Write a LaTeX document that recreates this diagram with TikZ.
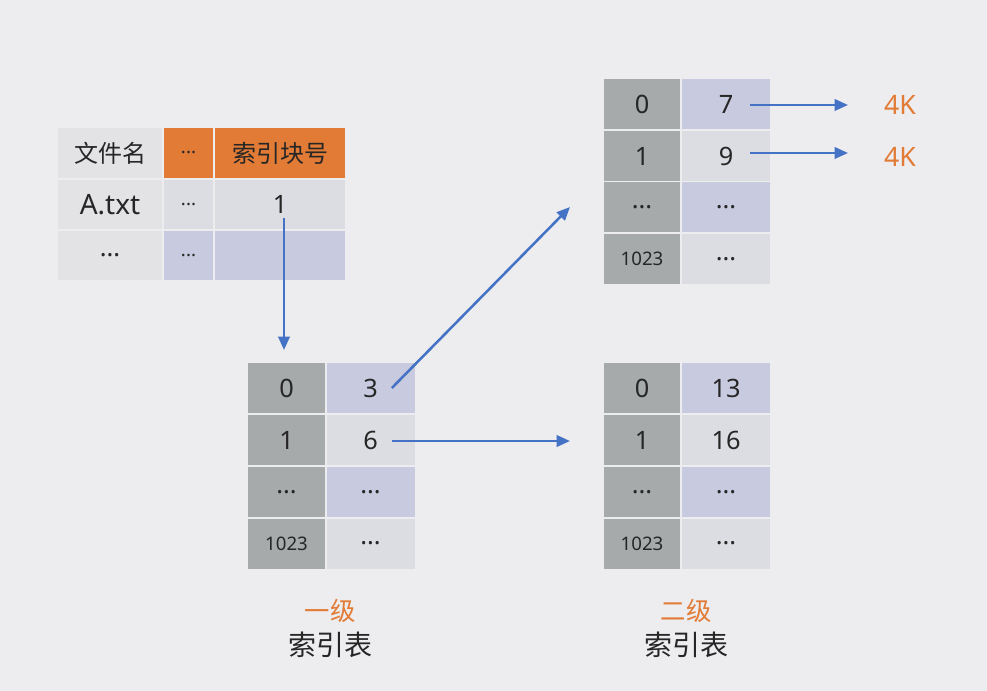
\documentclass[tikz,border=0pt]{standalone}
\usepackage{fontspec}
\setmainfont{Noto Sans}
\newfontfamily\cjk{Noto Sans CJK SC}
\usetikzlibrary{arrows.meta}

\definecolor{bgc}{HTML}{EDECEF}
\definecolor{keyc}{HTML}{A6AAAB}
\definecolor{lavc}{HTML}{C8CAE0}
\definecolor{litc}{HTML}{DCDDE3}
\definecolor{namec}{HTML}{E3E3E6}
\definecolor{orgc}{HTML}{E17B35}
\definecolor{arrc}{HTML}{4472C4}

\tikzset{
  cell/.style={rectangle, inner sep=0pt, text=black!85, font=\fontsize{19}{19}\selectfont},
  keycell/.style={cell, fill=keyc, minimum width=57.5pt, minimum height=37.5pt},
  valcell/.style={cell, minimum width=66pt, minimum height=37.5pt},
  arr/.style={draw=arrc, line width=1.9pt, -{Triangle[length=10pt,width=8.5pt]}},
  small/.style={font=\fontsize{14}{14}\selectfont}
}

\begin{document}
\begin{tikzpicture}[x=0.75pt, y=-0.75pt]
\fill[bgc] (0,0) rectangle (987,691);

% file table
\node[cell, fill=namec, minimum width=78pt, minimum height=37.5pt, font=\cjk\fontsize{18}{18}\selectfont] (fn1) at (110,153) {文件名};
\node[cell, fill=orgc, minimum width=36.75pt, minimum height=37.5pt, small] (fd1) at (188.5,153) {...};
\node[cell, fill=orgc, minimum width=97.5pt, minimum height=37.5pt, font=\cjk\fontsize{18}{18}\selectfont] (fi1) at (280,153) {索引块号};
\node[cell, fill=namec, minimum width=78pt, minimum height=36.75pt, font=\fontsize{21}{21}\selectfont] (fn2) at (110,204.5) {A.txt};
\node[cell, fill=litc, minimum width=36.75pt, minimum height=36.75pt, small] (fd2) at (188.5,204.5) {...};
\node[cell, fill=litc, minimum width=97.5pt, minimum height=36.75pt] (fi2) at (280,204.5) {1};
\node[cell, fill=namec, minimum width=78pt, minimum height=36.75pt] (fn3) at (110,255.5) {...};
\node[cell, fill=lavc, minimum width=36.75pt, minimum height=36.75pt, small] (fd3) at (188.5,255.5) {...};
\node[cell, fill=lavc, minimum width=97.5pt, minimum height=36.75pt] (fi3) at (280,255.5) {};

% first level index table
\node[keycell] (ak1) at (286.5,388) {0};
\node[valcell, fill=lavc] (av1) at (370.5,388) {3};
\node[keycell] (ak2) at (286.5,440) {1};
\node[valcell, fill=litc] (av2) at (370.5,440) {6};
\node[keycell] (ak3) at (286.5,492) {...};
\node[valcell, fill=lavc] (av3) at (370.5,492) {...};
\node[keycell, small] (ak4) at (286.5,543.5) {1023};
\node[valcell, fill=litc] (av4) at (370.5,543.5) {...};

% second level index tables
\node[keycell] (bk1) at (642,104) {0};
\node[valcell, fill=lavc] (bv1) at (726,104) {7};
\node[keycell] (bk2) at (642,156) {1};
\node[valcell, fill=litc] (bv2) at (726,156) {9};
\node[keycell] (bk3) at (642,207.5) {...};
\node[valcell, fill=lavc] (bv3) at (726,207.5) {...};
\node[keycell, small] (bk4) at (642,259) {1023};
\node[valcell, fill=litc] (bv4) at (726,259) {...};

\node[keycell] (ck1) at (642,388) {0};
\node[valcell, fill=lavc] (cv1) at (726,388) {13};
\node[keycell] (ck2) at (642,440) {1};
\node[valcell, fill=litc] (cv2) at (726,440) {16};
\node[keycell] (ck3) at (642,492) {...};
\node[valcell, fill=lavc] (cv3) at (726,492) {...};
\node[keycell, small] (ck4) at (642,543.5) {1023};
\node[valcell, fill=litc] (cv4) at (726,543.5) {...};

% data blocks
\node[text=orgc, font=\fontsize{20}{20}\selectfont] (blk1) at (900,105) {4K};
\node[text=orgc, font=\fontsize{20}{20}\selectfont] (blk2) at (900,157) {4K};

% captions
\node[text=orgc, font=\cjk\fontsize{19}{19}\selectfont] (lv1) at (330,611) {一级};
\node[text=black!85, font=\cjk\fontsize{21}{21}\selectfont] (tb1) at (330,645) {索引表};
\node[text=orgc, font=\cjk\fontsize{19}{19}\selectfont] (lv2) at (686,611) {二级};
\node[text=black!85, font=\cjk\fontsize{21}{21}\selectfont] (tb2) at (686,645) {索引表};

% pointers
\coordinate (p0) at (284,350);
\coordinate (p1) at (570,207);
\coordinate (p2) at (570,441);
\coordinate (p3) at (848,105);
\coordinate (p4) at (848,153);
\draw[arr] ([xshift=3pt,yshift=-10pt]fi2.center) -- (p0);
\draw[arr] ([xshift=16pt]av1.center) -- (p1);
\draw[arr] ([xshift=16pt,yshift=-0.75pt]av2.center) -- (p2);
\draw[arr] ([xshift=18pt,yshift=-0.75pt]bv1.center) -- (p3);
\draw[arr] ([xshift=18pt,yshift=2.25pt]bv2.center) -- (p4);
\end{tikzpicture}
\end{document}
